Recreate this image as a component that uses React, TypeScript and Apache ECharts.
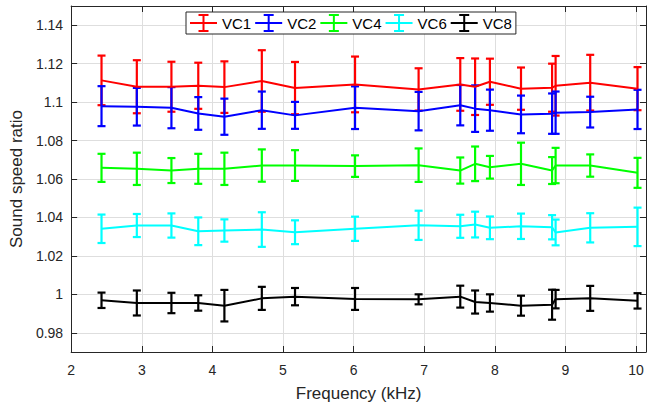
import React, { useEffect, useRef } from "react";
import * as echarts from "echarts";

const freqs = [2.43, 2.93, 3.42, 3.8, 4.17, 4.7, 5.17, 6.02, 6.92, 7.51, 7.72, 7.93, 8.37, 8.81, 8.86, 9.35, 10.02];

const vc1Mean = [1.1113, 1.108, 1.108, 1.1085, 1.1078, 1.111, 1.1073, 1.1092, 1.1066, 1.1092, 1.108, 1.1106, 1.107, 1.1075, 1.1085, 1.1101, 1.107];
const vc1Err = [0.0129, 0.0138, 0.013, 0.012, 0.0134, 0.016, 0.0136, 0.0145, 0.011, 0.0137, 0.0147, 0.012, 0.011, 0.0125, 0.0155, 0.0145, 0.0112];

const vc2Mean = [1.0979, 1.0976, 1.0971, 1.0941, 1.0924, 1.0958, 1.0931, 1.0971, 1.0953, 1.0984, 1.0966, 1.0958, 1.0936, 1.094, 1.0945, 1.0948, 1.0962];
const vc2Err = [0.0104, 0.0098, 0.0107, 0.0085, 0.0094, 0.0097, 0.007, 0.0111, 0.01, 0.0105, 0.0121, 0.0107, 0.0098, 0.0105, 0.011, 0.008, 0.0102];

const vc4Mean = [1.0658, 1.0653, 1.0644, 1.0653, 1.0653, 1.067, 1.067, 1.0667, 1.0672, 1.0644, 1.0679, 1.0661, 1.0679, 1.0644, 1.067, 1.067, 1.0632];
const vc4Err = [0.0073, 0.0084, 0.0065, 0.0078, 0.0084, 0.0084, 0.008, 0.0056, 0.0087, 0.0068, 0.009, 0.0059, 0.011, 0.007, 0.0092, 0.0058, 0.0078];

const vc6Mean = [1.0341, 1.0358, 1.0358, 1.0328, 1.0332, 1.0337, 1.0323, 1.0341, 1.0359, 1.0354, 1.0363, 1.0346, 1.0354, 1.0349, 1.0322, 1.0346, 1.0351];
const vc6Err = [0.0074, 0.006, 0.0063, 0.0072, 0.0058, 0.009, 0.0062, 0.0063, 0.0076, 0.006, 0.0067, 0.0059, 0.0066, 0.0063, 0.0067, 0.0076, 0.01];

const vc8Mean = [0.9969, 0.9955, 0.9955, 0.9955, 0.9941, 0.9979, 0.9988, 0.9976, 0.9974, 0.9988, 0.996, 0.9955, 0.9941, 0.9946, 0.9975, 0.9979, 0.9966];
const vc8Err = [0.004, 0.0065, 0.0053, 0.004, 0.0082, 0.006, 0.0045, 0.0057, 0.0026, 0.0057, 0.006, 0.0045, 0.0052, 0.0078, 0.0048, 0.0065, 0.004];

const seriesNames = ["VC1", "VC2", "VC4", "VC6", "VC8"];
const seriesColors = ["#ff0000", "#0000ff", "#00ff00", "#00ffff", "#000000"];
const xTicks = [2, 3, 4, 5, 6, 7, 8, 9, 10];
const yTicks = [0.98, 1.0, 1.02, 1.04, 1.06, 1.08, 1.1, 1.12, 1.14];

const means = [vc1Mean, vc2Mean, vc4Mean, vc6Mean, vc8Mean];
const errs = [vc1Err, vc2Err, vc4Err, vc6Err, vc8Err];

const FONT = "Arial, 'Liberation Sans', Helvetica, sans-serif";
const AXIS_COLOR = "#262626";
const GRID_COLOR = "#dedede";

const legendIcon =
  "path://M0,8L12.5,8L12.5,2L8.5,2L8.5,0L18.5,0L18.5,2L14.5,2L14.5,8L27,8L27,10L14.5,10L14.5,16L18.5,16L18.5,18L8.5,18L8.5,16L12.5,16L12.5,10L0,10Z";

export default function App() {
  const ref = useRef<HTMLDivElement>(null);
  useEffect(() => {
    if (!ref.current) return;
    const chart = echarts.init(ref.current, undefined, { renderer: "svg" });

    const series: any[] = [];
    seriesNames.forEach((name, i) => {
      const color = seriesColors[i];
      series.push({
        name,
        type: "line",
        xAxisIndex: 0,
        yAxisIndex: 0,
        data: freqs.map((f, j) => [f, means[i][j]]),
        symbol: "none",
        lineStyle: { color, width: 2 },
        itemStyle: { color },
        z: 2,
      });
      series.push({
        name,
        type: "custom",
        xAxisIndex: 0,
        yAxisIndex: 0,
        data: freqs.map((f, j) => [f, means[i][j] - errs[i][j], means[i][j] + errs[i][j]]),
        encode: { x: 0, y: [1, 2] },
        itemStyle: { color },
        renderItem: (_params: any, api: any) => {
          const x = api.value(0);
          const lo = api.value(1);
          const hi = api.value(2);
          const pt = api.coord([x, hi]);
          const pb = api.coord([x, lo]);
          const hw = 4;
          const st = { stroke: color, lineWidth: 2.2, fill: null };
          return {
            type: "group",
            children: [
              { type: "line", shape: { x1: pt[0], y1: pt[1], x2: pb[0], y2: pb[1] }, style: st },
              { type: "line", shape: { x1: pt[0] - hw, y1: pt[1], x2: pt[0] + hw, y2: pt[1] }, style: st },
              { type: "line", shape: { x1: pb[0] - hw, y1: pb[1], x2: pb[0] + hw, y2: pb[1] }, style: st },
            ],
          };
        },
        z: 2,
      });
    });

    const commonX = {
      type: "value",
      min: 2,
      max: 10.14,
      axisLine: { show: true, onZero: false, lineStyle: { color: AXIS_COLOR, width: 1 } },
    };
    const commonY = {
      type: "value",
      min: 0.97,
      max: 1.15,
      axisLine: { show: true, onZero: false, lineStyle: { color: AXIS_COLOR, width: 1 } },
    };

    chart.setOption({
      animation: false,
      backgroundColor: "#ffffff",
      grid: { left: 70, top: 6, right: 1, bottom: 57, containLabel: false },
      legend: {
        left: 186,
        top: 12,
        padding: [2, 4, 2, 4],
        itemGap: 4,
        itemWidth: 27,
        itemHeight: 18,
        backgroundColor: "#ffffff",
        borderColor: AXIS_COLOR,
        borderWidth: 1,
        borderRadius: 0,
        selectedMode: false,
        textStyle: { fontFamily: FONT, fontSize: 15, color: "#000000" },
        data: seriesNames.map((n, i) => ({
          name: n,
          icon: legendIcon,
          itemStyle: { color: seriesColors[i] },
        })),
      },
      xAxis: [
        {
          ...commonX,
          position: "bottom",
          name: "Frequency (kHz)",
          nameLocation: "middle",
          nameGap: 33,
          nameTextStyle: { fontFamily: FONT, fontSize: 17, color: AXIS_COLOR },
          axisTick: { show: true, inside: true, length: 6, customValues: xTicks, lineStyle: { color: AXIS_COLOR } },
          axisLabel: { customValues: xTicks, fontFamily: FONT, fontSize: 14, color: AXIS_COLOR, margin: 11 },
          splitLine: { show: true, lineStyle: { color: GRID_COLOR, width: 1 } },
        },
        {
          ...commonX,
          position: "top",
          axisTick: { show: true, inside: true, length: 6, customValues: xTicks, lineStyle: { color: AXIS_COLOR } },
          axisLabel: { show: false },
          splitLine: { show: false },
        },
      ],
      yAxis: [
        {
          ...commonY,
          position: "left",
          name: "Sound speed ratio",
          nameLocation: "middle",
          nameGap: 44,
          nameTextStyle: { fontFamily: FONT, fontSize: 17, color: AXIS_COLOR },
          axisTick: { show: true, inside: true, length: 6, customValues: yTicks, lineStyle: { color: AXIS_COLOR } },
          axisLabel: {
            customValues: yTicks,
            fontFamily: FONT,
            fontSize: 14,
            color: AXIS_COLOR,
            margin: 8,
            formatter: (v: number) => String(parseFloat(v.toFixed(2))),
          },
          splitLine: { show: true, lineStyle: { color: GRID_COLOR, width: 1 } },
        },
        {
          ...commonY,
          position: "right",
          axisTick: { show: true, inside: true, length: 6, customValues: yTicks, lineStyle: { color: AXIS_COLOR } },
          axisLabel: { show: false },
          splitLine: { show: false },
        },
      ],
      series,
    });
    return () => chart.dispose();
  }, []);
  return (
    <div
      ref={ref}
      style={{ position: "absolute", left: 0, top: 0, width: 647, height: 409 }}
    />
  );
}
